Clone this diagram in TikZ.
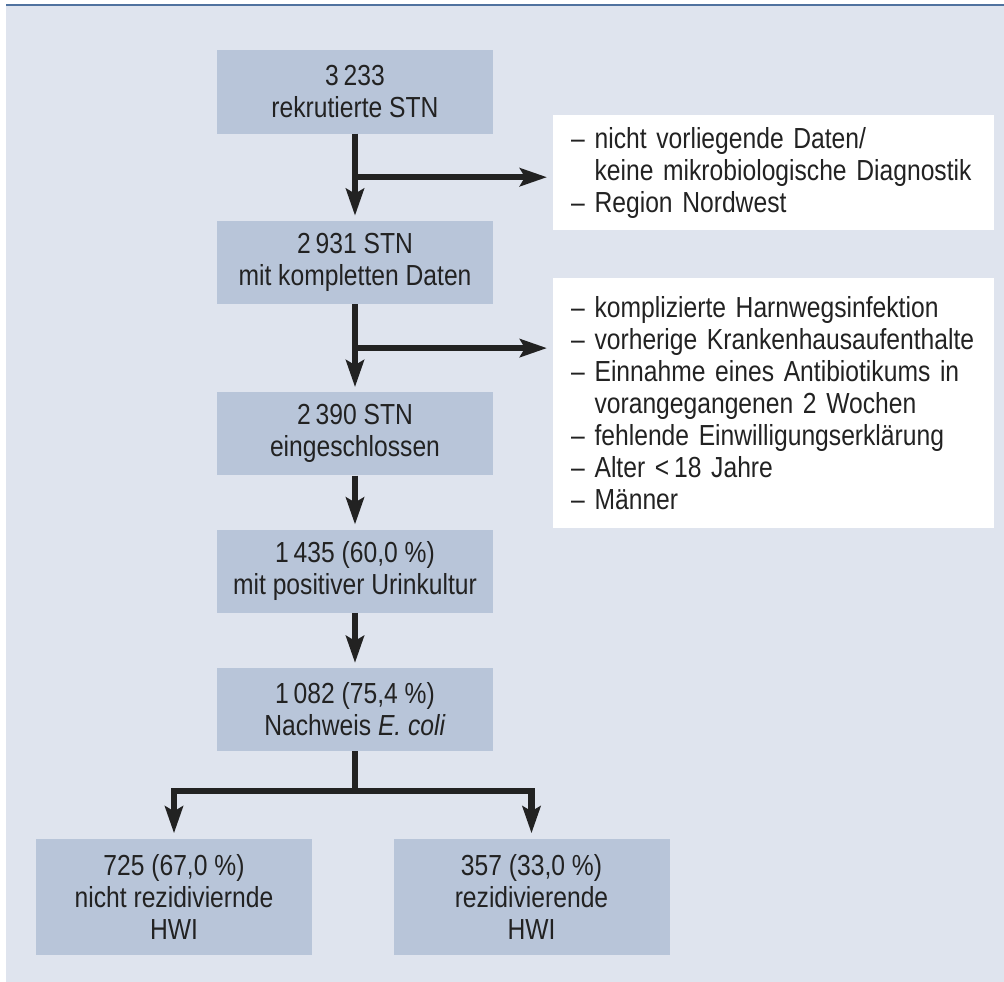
\documentclass[tikz,border=0pt]{standalone}
\usepackage{fontspec}
\setmainfont{Liberation Sans}[FakeStretch=0.85]
\usepackage{tikz}
\usetikzlibrary{positioning, calc}
\usetikzlibrary{arrows.meta}
\definecolor{bgblue}{HTML}{DFE4EE}
\definecolor{boxblue}{HTML}{B8C5D9}
\definecolor{topline}{HTML}{50729F}
\definecolor{ink}{HTML}{222222}
\tikzset{x=1pt, y=1pt,
every node/.style={font=\fontsize{29}{32}\selectfont, text=ink}, % same text size in all boxes
stage/.style={fill=boxblue, minimum width=276pt, minimum height=83pt, align=center, inner sep=0pt}, % the blue steps
excl/.style={fill=white, text width=405pt, inner xsep=18pt, align=left, anchor=north west}, % the white lists
flow/.style={line width=6.2pt, draw=ink, -{Stealth[length=27pt, width=18pt, inset=5pt]}, shorten >=5pt}, % the black arrows
}

\begin{document}
\begin{tikzpicture}
\useasboundingbox (0,0) rectangle (1004,-982);
\fill[bgblue] (6,-5) rectangle (1004,-982);
\draw[topline, line width=2.5pt] (6,-5) -- (1004,-5);

\node[stage] (b1) at (355,-92) {3\,233\\rekrutierte STN};
\node[stage, below=87pt of b1] (b2) {2\,931 STN\\mit kompletten Daten};
\node[stage, below=88pt of b2] (b3) {2\,390 STN\\eingeschlossen};
\node[stage, below=54pt of b3] (b4) {1\,435 (60,0 \%)\\mit positiver Urinkultur};
\node[stage, below=55pt of b4] (b5) {1\,082 (75,4 \%)\\Nachweis \textit{E. coli}};
\node[stage, minimum height=116pt, below=87pt of b5, xshift=-181pt] (b6) {725 (67,0 \%)\\nicht rezidiviernde\\HWI};
\node[stage, minimum height=116pt, below=87pt of b5, xshift=176.5pt] (b7) {357 (33,0 \%)\\rezidivierende\\HWI};

\node[excl, minimum height=115pt] (ex1) at (553,-115) {-- nicht vorliegende Daten/\\\phantom{-- }keine mikrobiologische Diagnostik\\-- Region Nordwest};
\node[excl, minimum height=250pt] (ex2) at (553,-278) {-- komplizierte Harnwegsinfektion\\-- vorherige Krankenhausaufenthalte\\-- Einnahme eines Antibiotikums in\\\phantom{-- }vorangegangenen 2 Wochen\\-- fehlende Einwilligungserklärung\\-- Alter <\,18 Jahre\\-- Männer};

\coordinate (s1) at ($(b1.south)!0.5!(b2.north)$);
\coordinate (s2) at ($(b2.south)!0.5!(b3.north)$);
\coordinate (s3) at ($(b5.south)+(0,-40)$);

\draw[flow] (b1) -- (b2);
\draw[flow, shorten >=6pt] (s1) -- (s1 -| ex1.west);
\draw[flow] (b2) -- (b3);
\draw[flow, shorten >=6pt] (s2) -- (s2 -| ex2.west);
\draw[flow] (b3) -- (b4);
\draw[flow] (b4) -- (b5);
\draw[flow] (b5) -- (s3) -| (b6);
\draw[flow] (b5) -- (s3) -| (b7);
\end{tikzpicture}
\end{document}
